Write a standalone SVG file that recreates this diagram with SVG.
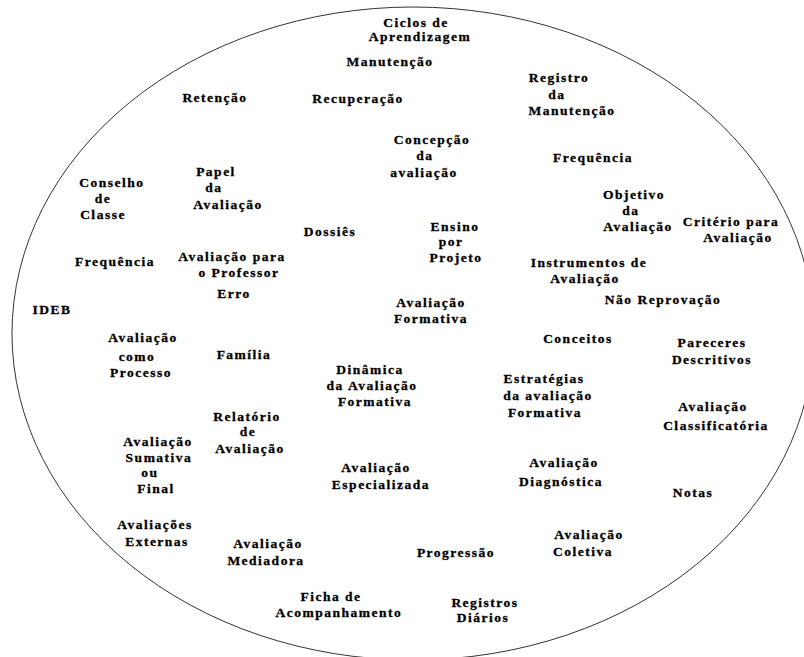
<svg xmlns="http://www.w3.org/2000/svg" width="804" height="657" viewBox="0 0 804 657">
  <style>
    .bg { fill: #ffffff; }
    .frame { fill: none; stroke: #333333; stroke-width: 1; }
    text { font-family: "Liberation Serif", "Times New Roman", serif; font-weight: bold; font-size: 13.5px; letter-spacing: 1.5px; fill: #000000; stroke: #000000; stroke-width: 0.3px; text-anchor: middle; }
  </style>
  <rect class="bg" x="0" y="0" width="804" height="657"/>
  <!-- boundary of the concept field -->
  <ellipse class="frame" cx="413" cy="333.5" rx="401" ry="326.5"/>

  <g id="ciclos"><text><tspan x="416" y="27">Ciclos de</tspan><tspan x="420" y="41">Aprendizagem</tspan></text></g>
  <g id="manutencao"><text x="390" y="66">Manutenção</text></g>
  <g id="retencao"><text x="215" y="102">Retenção</text></g>
  <g id="recuperacao"><text x="358" y="103">Recuperação</text></g>
  <g id="registro-manutencao"><text><tspan x="559" y="82">Registro</tspan><tspan x="557" y="98.5">da</tspan><tspan x="572" y="115">Manutenção</tspan></text></g>
  <g id="concepcao"><text><tspan x="432" y="144">Concepção</tspan><tspan x="425" y="160">da</tspan><tspan x="424" y="177">avaliação</tspan></text></g>
  <g id="frequencia-1"><text x="593" y="162">Frequência</text></g>
  <g id="conselho"><text><tspan x="112" y="187">Conselho</tspan><tspan x="103" y="203">de</tspan><tspan x="103" y="219">Classe</tspan></text></g>
  <g id="papel"><text><tspan x="216" y="176">Papel</tspan><tspan x="214" y="192">da</tspan><tspan x="228" y="209">Avaliação</tspan></text></g>
  <g id="objetivo"><text><tspan x="634" y="199">Objetivo</tspan><tspan x="631" y="215">da</tspan><tspan x="638" y="231">Avaliação</tspan></text></g>
  <g id="criterio"><text><tspan x="731" y="226">Critério para</tspan><tspan x="738" y="242">Avaliação</tspan></text></g>
  <g id="dossies"><text x="330" y="236">Dossiês</text></g>
  <g id="ensino"><text><tspan x="455" y="231">Ensino</tspan><tspan x="451" y="246">por</tspan><tspan x="456" y="262">Projeto</tspan></text></g>
  <g id="frequencia-2"><text x="115" y="266">Frequência</text></g>
  <g id="avaliacao-professor"><text><tspan x="232" y="261">Avaliação para</tspan><tspan x="239" y="277">o Professor</tspan></text></g>
  <g id="instrumentos"><text><tspan x="589" y="267">Instrumentos de</tspan><tspan x="585" y="283">Avaliação</tspan></text></g>
  <g id="erro"><text x="234" y="298">Erro</text></g>
  <g id="nao-reprovacao"><text x="663" y="304">Não Reprovação</text></g>
  <g id="ideb"><text x="52" y="314">IDEB</text></g>
  <g id="avaliacao-formativa"><text><tspan x="431" y="307">Avaliação</tspan><tspan x="431" y="323">Formativa</tspan></text></g>
  <g id="avaliacao-processo"><text><tspan x="143" y="342">Avaliação</tspan><tspan x="137" y="361">como</tspan><tspan x="141" y="377">Processo</tspan></text></g>
  <g id="familia"><text x="244" y="359">Família</text></g>
  <g id="conceitos"><text x="578" y="343">Conceitos</text></g>
  <g id="pareceres"><text><tspan x="712" y="347">Pareceres</tspan><tspan x="712" y="364">Descritivos</tspan></text></g>
  <g id="dinamica"><text><tspan x="370" y="374">Dinâmica</tspan><tspan x="372" y="390">da Avaliação</tspan><tspan x="375" y="406">Formativa</tspan></text></g>
  <g id="estrategias"><text><tspan x="544" y="383">Estratégias</tspan><tspan x="548" y="400">da avaliação</tspan><tspan x="545" y="417">Formativa</tspan></text></g>
  <g id="relatorio"><text><tspan x="247" y="421">Relatório</tspan><tspan x="248" y="436">de</tspan><tspan x="250" y="453">Avaliação</tspan></text></g>
  <g id="classificatoria"><text><tspan x="713" y="411">Avaliação</tspan><tspan x="716" y="430">Classificatória</tspan></text></g>
  <g id="sumativa"><text><tspan x="158" y="446">Avaliação</tspan><tspan x="159" y="462">Sumativa</tspan><tspan x="150" y="477">ou</tspan><tspan x="156" y="493">Final</tspan></text></g>
  <g id="especializada"><text><tspan x="376" y="472">Avaliação</tspan><tspan x="381" y="489">Especializada</tspan></text></g>
  <g id="diagnostica"><text><tspan x="564" y="467">Avaliação</tspan><tspan x="561" y="486">Diagnóstica</tspan></text></g>
  <g id="notas"><text x="693" y="497">Notas</text></g>
  <g id="externas"><text><tspan x="155" y="529">Avaliações</tspan><tspan x="157" y="546">Externas</tspan></text></g>
  <g id="mediadora"><text><tspan x="268" y="548">Avaliação</tspan><tspan x="266" y="565">Mediadora</tspan></text></g>
  <g id="coletiva"><text><tspan x="589" y="539">Avaliação</tspan><tspan x="583" y="556">Coletiva</tspan></text></g>
  <g id="progressao"><text x="456" y="557">Progressão</text></g>
  <g id="ficha"><text><tspan x="331" y="601">Ficha de</tspan><tspan x="339" y="617">Acompanhamento</tspan></text></g>
  <g id="registros-diarios"><text><tspan x="485" y="607">Registros</tspan><tspan x="483" y="622">Diários</tspan></text></g>
</svg>
